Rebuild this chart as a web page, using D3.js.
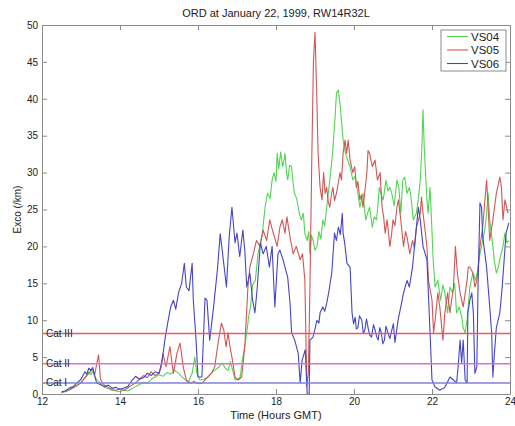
<!DOCTYPE html>
<html>
<head>
<meta charset="utf-8">
<script src="https://cdn.jsdelivr.net/npm/d3@7"></script>
<style>
body { margin: 0; background: #fff; }
text { font-family: "Liberation Sans", Arial, sans-serif; fill: #222; }
.axis path, .axis line { stroke: #8c8c8c; }
.axis text { font-size: 10px; }
</style>
</head>
<body>
<div id="chart"></div>
<script>
var W = 515, H = 426;
var margin = {top: 25, right: 5, bottom: 32, left: 42};

var title = "ORD at January 22, 1999, RW14R32L";
var xTicks = [12, 14, 16, 18, 20, 22, 24];
var yTicks = [0, 5, 10, 15, 20, 25, 30, 35, 40, 45, 50];

// category thresholds
var catNames = ["Cat III", "Cat II", "Cat I"];
var catValues = [8.2, 4.1, 1.5];
var catColors = ["#e25c6c", "#e070c4", "#8080e0"];

var seriesNames = ["VS04", "VS05", "VS06"];
var seriesColors = ["#52d452", "#d05656", "#4545c4"];

// [time (hours GMT), exco]
var vs04 = [[12.5,0.2],[12.6,0.3],[12.7,0.5],[12.8,0.8],[12.9,1.1],[13.0,1.6],[13.1,2.2],[13.15,2.6],[13.2,3.0],[13.25,2.6],[13.3,3.1],[13.35,2.4],[13.4,2.0],[13.5,1.4],[13.6,0.9],[13.7,0.7],[13.8,0.5],[13.9,0.4],[14.0,0.3],[14.1,0.5],[14.2,0.4],[14.3,0.7],[14.4,1.0],[14.5,1.3],[14.6,1.6],[14.7,1.4],[14.8,2.0],[14.9,2.3],[15.0,2.6],[15.1,2.4],[15.2,2.9],[15.3,2.7],[15.4,3.2],[15.5,2.8],[15.6,2.3],[15.7,1.8],[15.75,1.5],[15.8,2.2],[15.85,2.8],[15.92,5.0],[15.97,2.8],[16.05,1.9],[16.15,2.0],[16.25,2.3],[16.35,2.9],[16.45,3.3],[16.55,3.7],[16.62,4.2],[16.7,3.5],[16.77,3.2],[16.83,4.4],[16.9,3.0],[16.95,1.9],[17.02,2.0],[17.08,2.3],[17.15,5.0],[17.2,6.5],[17.25,8.3],[17.3,10.5],[17.35,12.0],[17.4,14.8],[17.47,15.4],[17.54,19.0],[17.6,20.5],[17.65,21.8],[17.72,25.3],[17.78,27.2],[17.85,26.5],[17.9,29.0],[17.95,30.0],[18.0,28.8],[18.03,32.6],[18.07,30.5],[18.12,32.8],[18.17,30.8],[18.2,31.5],[18.23,32.6],[18.27,30.0],[18.3,29.0],[18.35,31.0],[18.4,30.8],[18.44,28.5],[18.47,27.2],[18.53,26.5],[18.57,25.3],[18.61,24.2],[18.65,23.6],[18.7,24.5],[18.74,21.8],[18.8,20.8],[18.84,22.0],[18.87,19.0],[18.91,21.5],[18.95,20.8],[19.0,19.5],[19.05,20.0],[19.1,22.0],[19.15,21.0],[19.2,23.6],[19.25,22.8],[19.3,25.3],[19.38,29.0],[19.45,32.6],[19.51,37.1],[19.55,40.8],[19.6,41.2],[19.65,38.9],[19.72,34.4],[19.78,32.6],[19.85,31.5],[19.9,30.8],[19.97,29.0],[20.03,29.5],[20.08,28.0],[20.15,25.3],[20.23,27.2],[20.3,23.6],[20.35,24.5],[20.4,25.3],[20.47,22.6],[20.52,24.0],[20.58,23.6],[20.65,28.0],[20.7,27.0],[20.75,26.3],[20.82,29.0],[20.87,27.5],[20.92,28.0],[20.97,27.2],[21.03,25.5],[21.1,29.0],[21.15,28.0],[21.2,24.5],[21.25,29.0],[21.3,29.4],[21.36,27.2],[21.42,28.0],[21.46,26.7],[21.52,23.6],[21.6,24.5],[21.65,26.5],[21.7,29.0],[21.74,33.5],[21.77,38.5],[21.8,33.5],[21.87,26.3],[21.9,24.5],[21.95,28.0],[21.98,24.5],[22.03,18.2],[22.08,14.5],[22.15,15.4],[22.22,12.7],[22.28,14.8],[22.33,13.7],[22.4,11.0],[22.46,14.5],[22.53,13.7],[22.58,15.0],[22.63,11.0],[22.7,11.8],[22.76,10.5],[22.8,9.0],[22.85,8.3],[22.9,10.0],[22.97,14.5],[23.05,16.4],[23.12,15.4],[23.18,17.0],[23.23,19.0],[23.3,20.8],[23.36,22.5],[23.4,24.5],[23.44,27.2],[23.48,23.6],[23.53,21.5],[23.56,20.0],[23.6,18.0],[23.65,16.4],[23.7,17.2],[23.75,18.5],[23.82,20.0],[23.87,21.8],[23.92,20.5],[23.97,20.8]];

var vs05 = [[12.5,0.2],[12.6,0.4],[12.7,0.6],[12.8,0.9],[12.9,1.2],[13.0,1.5],[13.1,2.2],[13.2,2.8],[13.3,3.4],[13.35,2.6],[13.4,4.0],[13.45,5.3],[13.5,2.0],[13.55,1.5],[13.6,1.2],[13.7,0.9],[13.8,0.6],[13.9,0.5],[14.0,0.7],[14.1,0.5],[14.2,0.8],[14.3,1.2],[14.4,1.5],[14.5,2.0],[14.6,2.5],[14.7,2.2],[14.8,3.0],[14.9,2.5],[15.0,2.8],[15.05,3.5],[15.1,5.5],[15.18,3.7],[15.28,6.4],[15.37,2.8],[15.46,5.5],[15.54,6.9],[15.62,3.7],[15.7,1.9],[15.8,1.5],[15.9,1.7],[15.97,1.5],[16.05,1.4],[16.13,1.6],[16.25,2.3],[16.35,2.8],[16.43,3.7],[16.5,6.4],[16.55,8.0],[16.6,9.6],[16.66,8.7],[16.72,6.4],[16.77,8.3],[16.82,6.4],[16.87,5.0],[16.95,2.3],[17.03,1.9],[17.12,2.3],[17.2,6.4],[17.28,14.5],[17.33,17.2],[17.42,19.0],[17.5,20.8],[17.59,20.0],[17.67,22.2],[17.76,20.8],[17.84,23.6],[17.93,21.8],[18.03,20.0],[18.1,22.6],[18.16,23.6],[18.23,21.8],[18.28,24.0],[18.36,21.3],[18.44,19.0],[18.52,20.0],[18.62,18.2],[18.68,19.0],[18.74,15.4],[18.79,1.0],[18.83,3.0],[18.87,14.5],[18.92,32.6],[18.96,45.0],[19.0,49.0],[19.04,41.6],[19.08,32.6],[19.13,28.0],[19.18,26.3],[19.22,30.0],[19.26,27.2],[19.3,28.0],[19.34,26.0],[19.38,25.3],[19.42,27.0],[19.46,28.0],[19.5,26.2],[19.55,27.2],[19.6,28.6],[19.64,30.0],[19.68,29.0],[19.72,32.6],[19.77,34.4],[19.81,32.6],[19.85,34.4],[19.9,31.7],[19.97,30.0],[20.02,30.8],[20.06,28.0],[20.1,28.8],[20.15,26.3],[20.19,27.0],[20.23,25.3],[20.28,27.5],[20.33,30.0],[20.36,33.0],[20.4,32.6],[20.47,30.8],[20.54,31.7],[20.6,29.0],[20.67,30.0],[20.72,25.3],[20.76,24.0],[20.8,21.8],[20.85,23.6],[20.92,20.0],[20.96,21.5],[21.0,23.6],[21.05,22.8],[21.1,25.3],[21.14,26.3],[21.2,23.6],[21.27,20.0],[21.32,22.0],[21.36,21.3],[21.43,19.0],[21.5,20.8],[21.55,19.8],[21.6,22.6],[21.7,24.5],[21.73,26.7],[21.77,24.5],[21.87,20.0],[21.91,15.4],[22.0,12.7],[22.04,8.3],[22.08,10.0],[22.15,13.7],[22.2,11.8],[22.28,7.3],[22.33,11.0],[22.4,13.7],[22.46,11.0],[22.55,14.5],[22.6,20.0],[22.65,16.4],[22.72,13.7],[22.8,11.8],[22.9,15.4],[22.93,17.2],[22.97,17.2],[23.05,16.4],[23.1,14.5],[23.15,15.4],[23.23,20.0],[23.3,22.6],[23.4,29.0],[23.44,25.3],[23.48,20.8],[23.56,23.6],[23.65,27.2],[23.74,29.4],[23.78,28.0],[23.82,23.6],[23.87,26.3],[23.95,24.5]];

var vs06 = [[12.5,0.3],[12.6,0.4],[12.7,0.8],[12.8,1.0],[12.9,1.5],[13.0,2.0],[13.1,3.0],[13.15,2.7],[13.2,3.5],[13.25,3.2],[13.3,3.6],[13.35,2.5],[13.4,1.5],[13.5,1.3],[13.6,1.0],[13.7,1.2],[13.8,0.8],[13.9,0.9],[14.0,0.6],[14.1,0.8],[14.2,1.0],[14.3,1.8],[14.4,2.4],[14.5,2.0],[14.6,2.2],[14.7,2.8],[14.8,2.5],[14.9,3.0],[15.0,2.8],[15.08,4.5],[15.15,7.3],[15.22,9.5],[15.3,11.8],[15.37,12.7],[15.43,11.5],[15.5,13.7],[15.58,15.0],[15.65,17.7],[15.7,14.5],[15.77,14.0],[15.85,17.7],[15.88,12.7],[15.95,7.3],[16.0,2.3],[16.1,2.3],[16.18,13.0],[16.23,12.7],[16.3,7.3],[16.4,11.8],[16.5,17.0],[16.57,21.7],[16.64,18.6],[16.73,14.5],[16.8,21.3],[16.87,25.3],[16.95,20.5],[17.0,21.8],[17.07,18.6],[17.15,22.2],[17.2,19.5],[17.25,14.5],[17.33,16.4],[17.4,12.7],[17.46,11.0],[17.52,14.5],[17.6,20.5],[17.67,19.0],[17.75,20.0],[17.83,17.2],[17.9,20.0],[17.97,11.8],[18.05,19.0],[18.1,19.5],[18.18,18.2],[18.23,17.2],[18.3,15.8],[18.36,12.3],[18.4,8.3],[18.48,7.3],[18.57,5.5],[18.62,1.5],[18.67,4.6],[18.75,6.0],[18.8,0.0],[18.85,0.0],[18.87,7.3],[18.95,7.7],[19.0,8.8],[19.05,10.0],[19.1,9.6],[19.13,11.0],[19.2,11.8],[19.25,11.2],[19.3,12.3],[19.35,13.7],[19.43,16.4],[19.5,21.8],[19.55,20.8],[19.6,22.6],[19.65,21.6],[19.7,24.5],[19.72,21.8],[19.76,20.5],[19.82,17.7],[19.9,17.2],[19.95,11.0],[19.99,9.5],[20.03,10.4],[20.06,8.8],[20.1,9.0],[20.14,10.6],[20.2,10.0],[20.24,8.2],[20.28,8.7],[20.32,10.2],[20.36,9.0],[20.4,8.0],[20.45,7.7],[20.5,9.4],[20.54,8.7],[20.58,7.8],[20.62,7.3],[20.66,9.0],[20.7,8.3],[20.74,6.8],[20.78,7.3],[20.82,9.2],[20.87,8.3],[20.92,7.5],[20.97,8.7],[21.01,9.5],[21.05,7.0],[21.13,10.0],[21.2,11.8],[21.27,13.7],[21.36,15.4],[21.42,14.5],[21.5,17.2],[21.6,22.6],[21.65,25.3],[21.7,23.6],[21.77,20.0],[21.87,18.2],[21.9,14.5],[21.95,8.3],[22.0,1.9],[22.08,0.95],[22.2,0.5],[22.33,0.9],[22.46,2.3],[22.55,1.9],[22.63,1.5],[22.67,3.7],[22.72,7.3],[22.76,4.2],[22.8,7.3],[22.85,1.9],[22.9,1.5],[22.92,11.0],[22.97,12.7],[23.02,13.7],[23.06,11.0],[23.1,2.8],[23.15,3.7],[23.18,14.5],[23.23,25.9],[23.27,25.3],[23.3,21.3],[23.4,17.2],[23.48,11.8],[23.53,8.3],[23.56,2.3],[23.6,5.5],[23.65,9.0],[23.74,11.0],[23.8,14.5],[23.85,18.2],[23.9,21.8],[23.97,23.2]];

var allSeries = [vs04, vs05, vs06];

var svg = d3.select("#chart").append("svg")
	.attr("width", W)
	.attr("height", H);

var iw = W - margin.left - margin.right;
var ih = H - margin.top - margin.bottom;

var x = d3.scaleLinear().domain([12, 24]).range([margin.left, margin.left + iw]);
var y = d3.scaleLinear().domain([0, 50]).range([margin.top + ih, margin.top]);

svg.append("defs").append("clipPath")
	.attr("id", "plotclip")
	.append("rect")
	.attr("x", margin.left).attr("y", margin.top)
	.attr("width", iw).attr("height", ih);

// series lines
var line = d3.line()
	.x(function(d) { return x(d[0]); })
	.y(function(d) { return y(d[1]); });

var plot = svg.append("g").attr("clip-path", "url(#plotclip)");

allSeries.forEach(function(s, i) {
	plot.append("path")
		.datum(s)
		.attr("fill", "none")
		.attr("stroke", seriesColors[i])
		.attr("stroke-width", 1.1)
		.attr("stroke-linejoin", "round")
		.attr("d", line);
});

// category lines (a bit soft, like the scanned original)
catValues.forEach(function(v, i) {
	plot.append("line")
		.attr("x1", x(12)).attr("x2", x(24))
		.attr("y1", y(v)).attr("y2", y(v))
		.attr("stroke", catColors[i])
		.attr("stroke-width", 1.4);
	svg.append("text")
		.attr("x", margin.left + 4)
		.attr("y", y(v))
		.attr("dy", "0.35em")
		.style("font-size", "10px")
		.text(catNames[i]);
});

// axes, ticks pointing inward like matlab
svg.append("g")
	.attr("class", "axis")
	.attr("transform", "translate(0," + (margin.top + ih) + ")")
	.call(d3.axisBottom(x).tickValues(xTicks).tickSize(-5).tickPadding(4).tickSizeOuter(0));

svg.append("g")
	.attr("class", "axis")
	.attr("transform", "translate(0," + margin.top + ")")
	.call(d3.axisTop(x).tickValues(xTicks).tickSize(-5).tickSizeOuter(0).tickFormat(""));

svg.append("g")
	.attr("class", "axis")
	.attr("transform", "translate(" + margin.left + ",0)")
	.call(d3.axisLeft(y).tickValues(yTicks).tickSize(-5).tickPadding(4).tickSizeOuter(0));

svg.append("g")
	.attr("class", "axis")
	.attr("transform", "translate(" + (margin.left + iw) + ",0)")
	.call(d3.axisRight(y).tickValues(yTicks).tickSize(-5).tickSizeOuter(0).tickFormat(""));

// titles
svg.append("text")
	.attr("x", margin.left + iw / 2)
	.attr("y", 13)
	.attr("dy", "0.35em")
	.attr("text-anchor", "middle")
	.style("font-size", "11px")
	.text(title);

svg.append("text")
	.attr("x", margin.left + iw / 2)
	.attr("y", 415)
	.attr("dy", "0.35em")
	.attr("text-anchor", "middle")
	.style("font-size", "11px")
	.text("Time (Hours GMT)");

svg.append("text")
	.attr("transform", "translate(17," + (margin.top + ih / 2) + ") rotate(-90)")
	.attr("dy", "0.35em")
	.attr("text-anchor", "middle")
	.style("font-size", "10px")
	.text("Exco (/km)");

// legend
var lg = svg.append("g").attr("transform", "translate(441,30)");
lg.append("rect")
	.attr("width", 65).attr("height", 41)
	.attr("fill", "#fff")
	.attr("stroke", "#8c8c8c");
seriesNames.forEach(function(n, i) {
	var ly = 6.5 + i * 13.5;
	lg.append("line")
		.attr("x1", 6).attr("x2", 27)
		.attr("y1", ly).attr("y2", ly)
		.attr("stroke", seriesColors[i])
		.attr("stroke-width", 1.1);
	lg.append("text")
		.attr("x", 30).attr("y", ly)
		.attr("dy", "0.35em")
		.style("font-size", "11.5px")
		.text(n);
});
</script>
</body>
</html>
